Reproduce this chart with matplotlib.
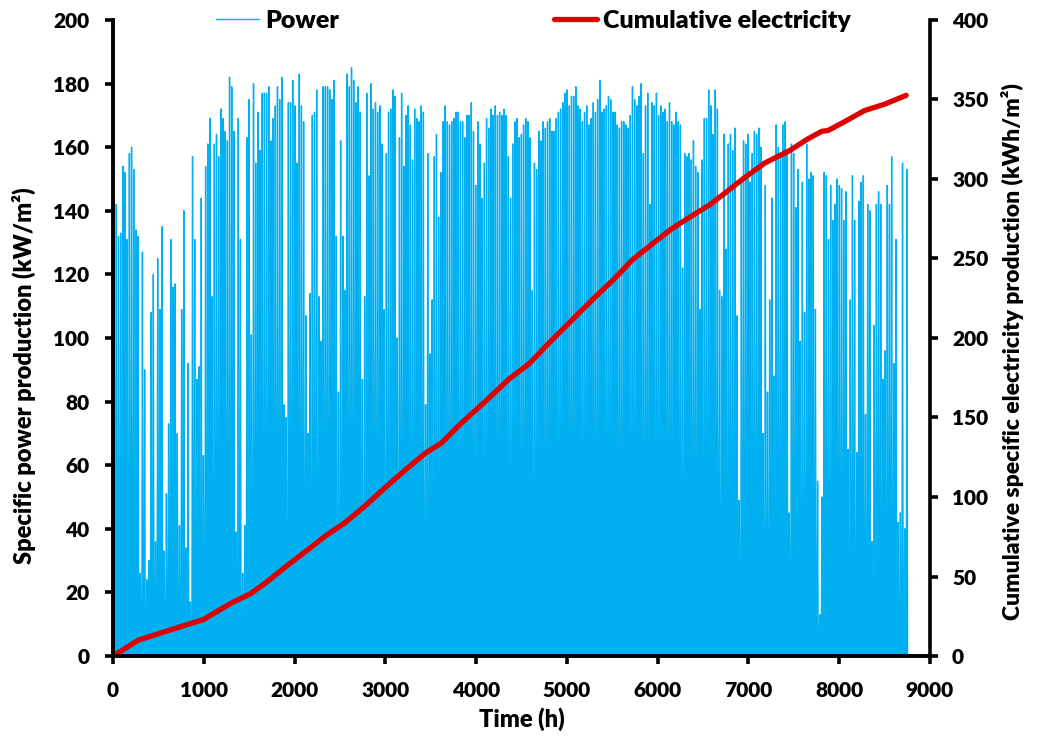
import matplotlib.pyplot as plt

plt.rcParams['font.family'] = ['Lato', 'DejaVu Sans']
plt.rcParams['font.weight'] = 'heavy'
plt.rcParams['axes.labelweight'] = 'heavy'

# daily peak of specific power (kW/m2), one value per day of the year
daily_peak = [
    128, 142, 132, 133, 154, 152, 131, 158, 160, 153,
    134, 132, 26, 127, 90, 24, 30, 108, 120, 36,
    125, 109, 135, 33, 51, 73, 131, 116, 117, 70,
    41, 109, 140, 34, 92, 17, 157, 131, 87, 91,
    144, 63, 154, 161, 169, 113, 161, 164, 157, 172,
    169, 165, 162, 182, 179, 165, 39, 169, 131, 26,
    41, 163, 175,
    101, 180, 155, 171, 159, 177, 177, 177, 179, 162,
    169, 173, 179, 175, 182, 79, 75, 174, 174, 181,
    173, 155, 183, 173, 168, 107, 70, 114, 170, 171,
    178, 113, 99, 179, 179, 179, 178, 175, 181, 132,
    83, 162, 132, 115, 183, 179, 185, 181, 174, 179,
    171, 87, 113, 177, 151, 180, 172, 174, 171, 173,
    161, 109, 158, 171,
    172, 178, 176, 100, 163, 177, 154, 170, 173, 167,
    156, 172, 169, 168, 173, 171, 79, 158, 95, 112,
    157, 164, 138, 152, 168, 173, 168, 167, 168, 169,
    171, 171, 168, 168, 163, 170, 170, 174, 165, 148,
    168, 161, 144, 155, 169, 166, 172, 170, 173, 170,
    171, 170, 172, 170, 157, 144, 161, 168, 169, 163,
    164, 167, 169,
    168, 163, 115, 155, 153, 165, 162, 168, 166, 168,
    169, 165, 165, 169, 171, 172, 174, 177, 178, 173,
    176, 176, 179, 173, 172, 168, 171, 173, 167, 169,
    174, 171, 175, 181, 171, 172, 173, 176, 175, 171,
    171, 167, 166, 168, 168, 167, 166, 170, 179, 175,
    173, 176, 180, 158, 173, 177, 142, 174, 173, 177,
    170, 173, 171, 172,
    168, 174, 168, 167, 171, 168, 167, 122, 158, 157,
    158, 156, 162, 154, 152, 109, 156, 169, 169, 178,
    173, 164, 178, 172, 115, 113, 164, 128, 161, 164,
    159, 166, 107, 49, 149, 162, 161, 164, 149, 158,
    165, 164, 166, 160, 70, 148, 83, 112, 144, 88,
    167, 160, 158, 167, 168, 158, 45, 161, 158, 141,
    153, 99, 149, 108,
    161, 150, 152, 151, 109, 55, 13, 50, 152, 151,
    131, 148, 137, 142, 150, 148, 147, 137, 146, 65,
    112, 151, 137, 64, 143, 149, 151, 76, 142, 140,
    36, 104, 142, 146, 142, 87, 96, 148, 142, 157,
    92, 131, 42, 45, 155, 40, 153,
]

# cumulative specific electricity (kWh/m2)
cum_hours = [0, 280, 390, 610, 830, 1000, 1100, 1310, 1510, 1670, 1900,
             2150, 2340, 2560, 2780, 3000, 3220, 3440, 3620, 3820, 4100,
             4370, 4590, 4780, 5000, 5290, 5520, 5730, 5950, 6140, 6300,
             6580, 6740, 6940, 7180, 7460, 7650, 7810, 7880, 8060, 8280,
             8500, 8740]
cum_energy = [0, 10, 12, 16, 20, 23, 26.5, 33.5, 39, 45.5, 56,
              67, 75.5, 84, 94.5, 106, 117, 127.5, 134, 145.5, 160,
              174.5, 184, 195.5, 208, 224.5, 237, 249.5, 259.5, 268, 274,
              284, 291, 300, 310, 318, 325, 330, 330.5, 336, 343,
              347, 352.6]

# one peak per day: zero at sunrise, peak at noon, zero at sunset
sunrise, noon, sunset = 5, 12, 19
hours = []
power = []
for day, peak in enumerate(daily_peak):
    hours += [24 * day + sunrise, 24 * day + noon, 24 * day + sunset]
    power += [0, peak, 0]

fig, ax = plt.subplots(figsize=(10.4, 7.4), dpi=100)
fig.subplots_adjust(left=0.1087, right=0.894, top=0.973, bottom=0.1135)

ax.plot(hours, power, color='#00B0F0', lw=1.0, label='Power')
ax2 = ax.twinx()
ax2.plot(cum_hours, cum_energy, color='#E00000', lw=3.8,
         solid_capstyle='round', label='Cumulative electricity')

ax.set_xlim(0, 9000)
ax.set_ylim(0, 200)
ax2.set_ylim(0, 400)
ax.set_xticks(range(0, 9001, 1000))
ax.set_yticks(range(0, 201, 20))
ax2.set_yticks(range(0, 401, 50))

for a in (ax, ax2):
    a.spines['top'].set_visible(False)
    for s in ('left', 'right', 'bottom'):
        a.spines[s].set_linewidth(2.6)
    a.tick_params(direction='out', length=6, width=2.6, labelsize=15)
ax.spines['right'].set_visible(False)
ax.tick_params(axis='y', pad=11)
ax.tick_params(axis='x', pad=12)
ax2.tick_params(axis='y', pad=10)

ax.set_xlabel('Time (h)', fontsize=17, fontweight='heavy', labelpad=5)
ax.set_ylabel('Specific power production (kW/m²)', fontsize=17,
              fontweight='heavy')
ax2.set_ylabel('Cumulative specific electricity production (kWh/m²)',
               fontsize=16.5, fontweight='heavy')
ax.yaxis.set_label_coords(-0.094, 0.44)
ax2.yaxis.set_label_coords(1.087, 0.478)

h1, l1 = ax.get_legend_handles_labels()
h2, l2 = ax2.get_legend_handles_labels()
fig.legend(h1 + h2, l1 + l2, loc='center', bbox_to_anchor=(0.513, 0.972),
           ncol=2, frameon=False, fontsize=18, columnspacing=8.6,
           handlelength=1.7, handletextpad=0.25)

plt.savefig('out.png', dpi=100)
